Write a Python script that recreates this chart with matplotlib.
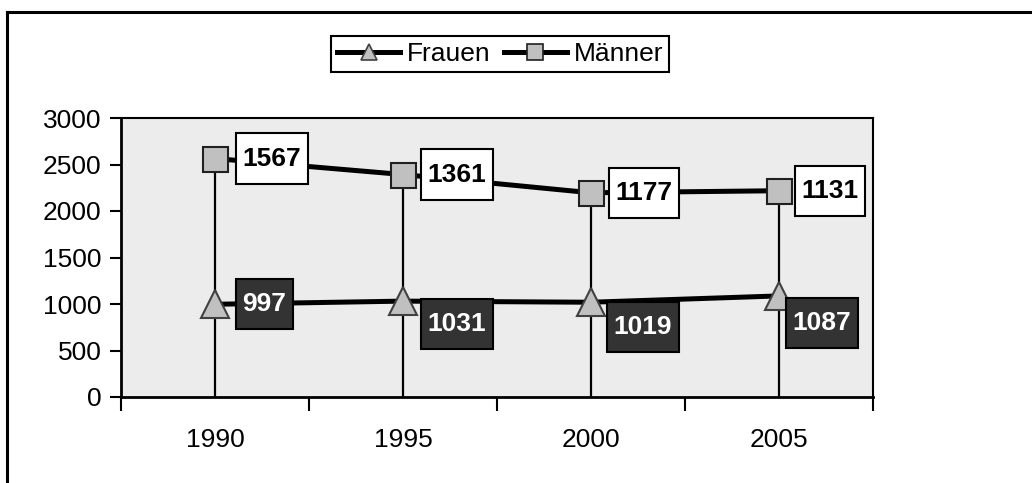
import matplotlib
matplotlib.use("Agg")
import matplotlib.pyplot as plt
from matplotlib.lines import Line2D
from matplotlib.path import Path
import numpy as np

plt.rcParams['font.family'] = ['Liberation Sans', 'DejaVu Sans']

# ---- data ----
years = ["1990", "1995", "2000", "2005"]
frauen = [997, 1031, 1019, 1087]
maenner = [1567, 1361, 1177, 1131]
yticks = [0, 500, 1000, 1500, 2000, 2500, 3000]

x = np.arange(len(years))
maenner_stacked = [f + m for f, m in zip(frauen, maenner)]


def label_box(x0, y0, width, height, mutation_size):
    px = 0.25 * mutation_size
    py = 0.50 * mutation_size
    x0, y0 = x0 - px, y0 - py
    x1, y1 = x0 + width + 2 * px, y0 + height + 2 * py
    return Path([(x0, y0), (x1, y0), (x1, y1), (x0, y1), (x0, y0)], closed=True)


fig = plt.figure(figsize=(10.32, 4.83), dpi=100)
ax = fig.add_axes([121 / 1032, 86 / 483, (873 - 121) / 1032, (397 - 118) / 483])
ax.set_facecolor('#ececec')

# drop lines
ax.vlines(x, 0, maenner_stacked, color='black', lw=1.6, zorder=2)

# series lines
ax.plot(x, frauen, color='black', lw=3.6, zorder=3, solid_joinstyle='round')
ax.plot(x, maenner_stacked, color='black', lw=3.6, zorder=3, solid_joinstyle='round')
ax.plot(x, frauen, ls='none', marker='^', ms=20, mfc='#c0c0c0', mec='#404040', mew=1.5, zorder=5)
ax.plot(x, maenner_stacked, ls='none', marker='s', ms=18, mfc='#c0c0c0', mec='#202020', mew=1.5, zorder=5)

# data labels (offsets in pixels from the point to the left edge of the box)
fs_lab = 19
padx_px = 0.25 * fs_lab / 72 * 100
m_off = [(21, 0), (18, 0), (18, 0), (16, 0)]
f_off = [(21, 0), (18, -23), (16, -25), (7, -27)]
for i in range(len(years)):
    ax.annotate(str(maenner[i]), (x[i], maenner_stacked[i]),
                xytext=(m_off[i][0] + padx_px, m_off[i][1]),
                textcoords='offset pixels', ha='left', va='center',
                fontsize=fs_lab, fontweight='bold', color='black', zorder=6,
                bbox=dict(boxstyle=label_box, fc='white', ec='black', lw=1.5))
    ax.annotate(str(frauen[i]), (x[i], frauen[i]),
                xytext=(f_off[i][0] + padx_px, f_off[i][1]),
                textcoords='offset pixels', ha='left', va='center',
                fontsize=fs_lab, fontweight='bold', color='white', zorder=6,
                bbox=dict(boxstyle=label_box, fc='#333333', ec='black', lw=1.5))

# axes
ax.set_xlim(-0.5, len(years) - 0.5)
ax.set_ylim(0, 3000)
ax.set_yticks(yticks)
ax.set_yticklabels([str(v) for v in yticks])
ax.tick_params(axis='y', direction='out', length=8, width=1.5, labelsize=19, pad=6)
ax.set_xticks(np.arange(-0.5, len(years)), minor=False)
ax.set_xticklabels([])
ax.tick_params(axis='x', which='major', direction='out', length=10, width=1.5)
ax.set_xticks(x, minor=True)
ax.set_xticklabels(years, minor=True)
ax.tick_params(axis='x', which='minor', length=0, labelsize=19, pad=22)
for s in ax.spines.values():
    s.set_color('black')
    s.set_linewidth(1.5)
ax.spines['left'].set_linewidth(2)
ax.spines['bottom'].set_linewidth(2)

# legend
handles = [
    Line2D([], [], color='black', lw=3.6, marker='^', ms=12, mfc='#c0c0c0', mec='#404040', mew=1.2),
    Line2D([], [], color='black', lw=3.6, marker='s', ms=11, mfc='#c0c0c0', mec='#202020', mew=1.2),
]
leg = fig.legend(handles, ['Frauen', 'Männer'], loc='center', bbox_to_anchor=(500 / 1032, 1 - 54 / 483),
                 ncol=2, fontsize=19, frameon=True, fancybox=False, handlelength=2.4,
                 handletextpad=0.25, columnspacing=0.5, borderpad=0.22, borderaxespad=0)
leg.get_frame().set_edgecolor('black')
leg.get_frame().set_linewidth(1.5)
leg.get_frame().set_alpha(1)

# outer frame
fig.add_artist(Line2D([7 / 1032, 1], [1 - 12 / 483, 1 - 12 / 483], color='black', lw=2.2, transform=fig.transFigure))
fig.add_artist(Line2D([7 / 1032, 7 / 1032], [0, 1 - 12 / 483], color='black', lw=2.2, transform=fig.transFigure))

fig.savefig('out.png', dpi=100)
